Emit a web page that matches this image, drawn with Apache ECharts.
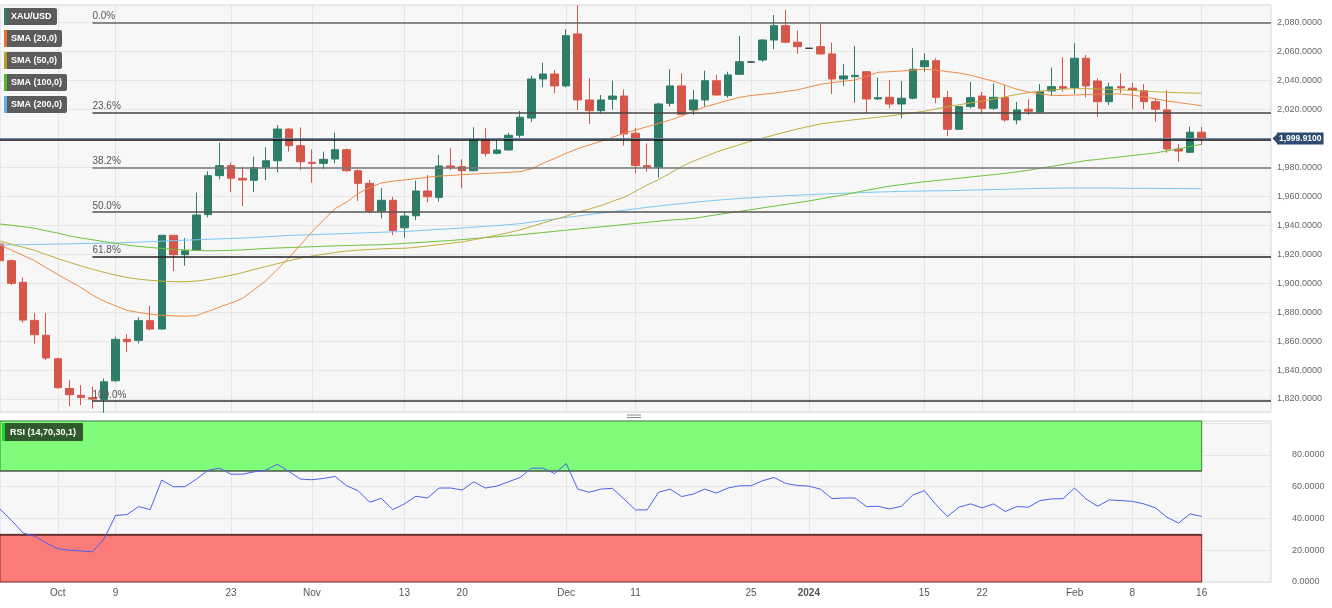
<!DOCTYPE html>
<html>
<head>
<meta charset="utf-8">
<script src="https://cdn.jsdelivr.net/npm/echarts@6/dist/echarts.min.js"></script>
<style>
  html, body { margin: 0; padding: 0; background: #fff; }
  #chart { width: 1332px; height: 608px; }
</style>
</head>
<body>
<div id="chart"></div>
<script>
// weekdays, Sep 25 2023 .. Feb 16 2024, then empty slots on the right
var dates = [
  '2023-09-25','2023-09-26','2023-09-27','2023-09-28','2023-09-29',
  '2023-10-02','2023-10-03','2023-10-04','2023-10-05','2023-10-06','2023-10-09','2023-10-10','2023-10-11','2023-10-12','2023-10-13',
  '2023-10-16','2023-10-17','2023-10-18','2023-10-19','2023-10-20','2023-10-23','2023-10-24','2023-10-25','2023-10-26','2023-10-27',
  '2023-10-30','2023-10-31',
  '2023-11-01','2023-11-02','2023-11-03','2023-11-06','2023-11-07','2023-11-08','2023-11-09','2023-11-10','2023-11-13','2023-11-14',
  '2023-11-15','2023-11-16','2023-11-17','2023-11-20','2023-11-21','2023-11-22','2023-11-23','2023-11-24','2023-11-27','2023-11-28',
  '2023-11-29','2023-11-30',
  '2023-12-01','2023-12-04','2023-12-05','2023-12-06','2023-12-07','2023-12-08','2023-12-11','2023-12-12','2023-12-13','2023-12-14',
  '2023-12-15','2023-12-18','2023-12-19','2023-12-20','2023-12-21','2023-12-22','2023-12-25','2023-12-26','2023-12-27','2023-12-28',
  '2023-12-29',
  '2024-01-01','2024-01-02','2024-01-03','2024-01-04','2024-01-05','2024-01-08','2024-01-09','2024-01-10','2024-01-11','2024-01-12',
  '2024-01-15','2024-01-16','2024-01-17','2024-01-18','2024-01-19','2024-01-22','2024-01-23','2024-01-24','2024-01-25','2024-01-26',
  '2024-01-29','2024-01-30','2024-01-31',
  '2024-02-01','2024-02-02','2024-02-05','2024-02-06','2024-02-07','2024-02-08','2024-02-09','2024-02-12','2024-02-13','2024-02-14',
  '2024-02-15','2024-02-16',
  '2024-02-19','2024-02-20','2024-02-21','2024-02-22','2024-02-23','2024-02-26'
];

var tickIndex = [5, 10, 20, 27, 35, 40, 49, 55, 65, 70, 80, 85, 93, 98, 104];
var tickText  = ['Oct', '9', '23', 'Nov', '13', '20', 'Dec', '11', '25', '2024', '15', '22', 'Feb', '8', '16'];

// [open, close, low, high]
var ohlc = [
  [1927.1,1915.5,1914.0,1928.0],[1915.5,1899.9,1898.7,1916.5],[1900.6,1874.5,1872.7,1903.8],[1874.3,1864.4,1858.2,1879.4],
  [1864.0,1848.3,1846.9,1879.4],[1847.8,1827.8,1827.1,1848.5],[1827.3,1822.9,1815.0,1833.0],[1822.5,1821.1,1815.8,1829.6],
  [1820.8,1819.9,1813.3,1828.5],[1819.7,1831.9,1810.5,1834.2],[1832.6,1861.2,1831.9,1863.0],[1861.2,1859.6,1852.4,1864.8],
  [1860.5,1874.1,1858.4,1876.4],[1874.1,1868.3,1867.4,1884.4],[1868.3,1933.1,1868.0,1933.1],[1933.1,1919.7,1908.4,1933.1],
  [1919.7,1922.4,1912.1,1931.2],[1922.9,1947.1,1922.9,1962.5],[1947.4,1974.3,1945.5,1977.3],[1974.3,1981.2,1971.8,1997.1],
  [1981.2,1972.5,1963.0,1983.3],[1972.5,1971.3,1953.4,1980.5],[1971.1,1979.8,1963.0,1987.4],[1980.1,1984.6,1971.3,1993.9],
  [1984.6,2006.5,1976.6,2009.3],[2006.5,1995.0,1990.9,2007.0],[1995.0,1983.9,1978.2,2007.7],[1983.5,1982.8,1969.4,1992.5],
  [1982.8,1985.6,1978.7,1990.9],[1985.8,1992.2,1982.8,2004.0],[1992.2,1977.7,1977.0,1993.0],[1977.7,1969.0,1956.8,1978.7],
  [1969.0,1949.9,1948.2,1971.3],[1949.9,1957.3,1944.8,1965.6],[1957.3,1936.3,1933.3,1959.7],[1938.3,1946.4,1931.4,1949.4],
  [1946.6,1963.7,1943.6,1970.8],[1963.7,1959.7,1955.9,1974.7],[1959.3,1981.0,1956.3,1988.6],[1981.0,1980.1,1978.2,1993.2],
  [1980.5,1977.7,1965.6,1985.6],[1977.7,1998.9,1977.2,2007.7],[1998.9,1989.7,1987.5,2007.0],[1989.7,1992.0,1989.0,1998.9],
  [1992.0,2002.2,1991.5,2004.0],[2002.2,2014.6,2000.3,2019.0],[2014.1,2041.1,2011.4,2043.4],[2041.1,2044.5,2035.4,2052.4],
  [2044.5,2036.3,2031.2,2047.3],[2036.3,2071.0,2035.4,2075.4],[2072.2,2026.6,2019.7,2092.0],[2026.6,2019.2,2010.0,2041.6],
  [2019.2,2026.6,2017.0,2030.0],[2027.1,2029.3,2020.1,2039.9],[2029.3,2003.1,1995.0,2034.0],[2003.6,1981.2,1975.9,2007.4],
  [1981.2,1980.1,1977.0,1996.6],[1980.1,2023.8,1972.9,2024.7],[2024.3,2036.3,2022.0,2047.8],[2036.3,2016.7,2016.2,2045.0],
  [2019.7,2026.6,2016.2,2033.5],[2026.6,2039.9,2022.0,2046.8],[2039.9,2030.0,2029.6,2043.9],[2029.6,2043.9,2028.2,2046.1],
  [2044.3,2053.0,2043.9,2070.8],[2052.8,2052.8,2052.8,2052.8],[2054.2,2068.0,2053.0,2068.5],[2068.0,2077.9,2061.6,2085.3],
  [2077.9,2066.5,2065.8,2088.8],[2066.5,2063.4,2058.4,2074.5],[2062.3,2062.3,2062.3,2062.3],[2063.4,2058.4,2057.7,2079.6],
  [2058.4,2041.1,2030.7,2066.2],[2041.1,2043.2,2036.3,2051.5],[2042.7,2043.6,2024.7,2063.9],[2046.1,2027.3,2017.4,2046.6],
  [2027.3,2028.2,2026.6,2042.0],[2028.4,2023.8,2020.8,2040.4],[2023.8,2027.8,2013.9,2039.7],[2027.8,2047.8,2027.0,2062.3],
  [2049.6,2053.7,2046.1,2058.9],[2053.7,2028.4,2024.3,2055.4],[2028.2,2006.3,2001.7,2032.8],[2006.3,2022.0,2005.8,2022.4],
  [2022.0,2028.2,2020.8,2039.2],[2029.3,2020.8,2016.9,2032.1],[2020.8,2028.4,2019.7,2038.1],[2028.2,2012.8,2011.6,2036.9],
  [2012.8,2019.7,2009.8,2025.2],[2020.2,2018.8,2016.2,2027.1],[2018.3,2032.3,2018.0,2037.6],[2032.8,2035.8,2029.3,2048.9],
  [2035.8,2034.7,2032.3,2056.1],[2035.1,2055.4,2030.7,2065.8],[2055.4,2036.3,2028.4,2057.7],[2039.7,2025.4,2015.0,2041.6],
  [2025.4,2035.6,2023.1,2038.5],[2035.8,2034.9,2031.2,2045.0],[2034.7,2033.5,2020.2,2038.5],[2033.0,2025.4,2020.2,2037.6],
  [2025.4,2020.2,2011.6,2027.8],[2019.7,1992.7,1990.2,2033.5],[1992.7,1991.3,1983.9,1996.2],[1990.4,2004.3,1990.2,2008.1],
  [2004.3,1999.91,1995.5,2008.1]
];

var sma20 = [
  1926.4,1922.8,1919.2,1915.5,1910.7,1906.0,1901.5,1897.0,1891.8,1887.6,1884.3,1881.2,1879.8,1878.6,1877.8,1877.4,1877.2,1877.6,1880.5,1883.5,
  1886.3,1889.5,1895.5,1901.6,1909.5,1917.5,1926.4,1935.5,1943.7,1951.5,1956.0,1962.0,1966.0,1969.3,1970.5,1971.3,1972.2,1973.2,1974.0,1974.4,
  1975.0,1975.4,1975.8,1976.2,1976.6,1977.0,1979.0,1982.8,1986.2,1989.7,1993.0,1995.5,1998.0,2000.8,2003.6,2005.8,2008.1,2010.4,2012.7,2015.5,
  2018.7,2021.8,2024.0,2026.3,2028.4,2029.7,2030.5,2031.3,2032.5,2033.5,2035.5,2037.4,2038.6,2039.5,2040.4,2043.0,2045.7,2046.1,2046.6,2047.2,
  2047.8,2047.2,2046.2,2045.2,2043.6,2041.6,2039.5,2036.7,2034.0,2032.1,2030.8,2029.8,2029.7,2030.0,2030.4,2030.6,2030.7,2030.7,2029.9,2028.8,
  2027.3,2025.9,2024.8,2023.7,2022.6
];
var sma50 = [
  1929.1,1926.9,1924.8,1922.7,1919.8,1917.0,1914.4,1912.0,1909.6,1907.5,1905.6,1903.9,1902.8,1902.0,1901.4,1901.0,1901.0,1901.5,1902.5,1904.0,
  1905.5,1907.3,1909.5,1911.5,1913.5,1915.5,1917.3,1918.8,1920.0,1921.2,1922.2,1922.8,1923.3,1923.7,1924.0,1924.1,1924.8,1925.7,1926.6,1927.6,
  1928.5,1930.0,1931.6,1933.2,1934.9,1936.8,1939.2,1941.6,1944.0,1946.3,1949.0,1951.2,1953.6,1956.6,1959.3,1963.5,1967.8,1971.6,1976.0,1980.6,
  1984.3,1987.4,1990.6,1993.2,1995.6,1998.2,2000.2,2002.4,2004.5,2006.5,2008.3,2010.0,2011.1,2012.0,2013.0,2013.8,2014.7,2015.5,2016.6,2017.7,
  2018.8,2020.4,2022.0,2023.3,2024.6,2025.8,2027.2,2028.8,2030.4,2031.6,2032.6,2033.5,2034.1,2034.4,2034.4,2034.2,2033.9,2033.6,2033.2,2032.8,
  2032.2,2031.9,2031.6,2031.4,2031.2
];
var sma100 = [
  1940.9,1940.0,1939.0,1937.9,1936.2,1934.6,1932.6,1931.2,1930.0,1928.7,1927.5,1926.3,1925.4,1924.7,1924.0,1923.4,1923.0,1922.6,1922.4,1922.5,
  1922.7,1923.0,1923.5,1924.0,1924.3,1924.6,1924.9,1925.2,1925.5,1925.8,1926.0,1926.2,1926.4,1926.6,1927.0,1927.5,1928.0,1928.5,1929.0,1929.5,
  1930.1,1930.8,1931.5,1932.1,1932.8,1933.4,1934.2,1935.0,1935.8,1936.6,1937.4,1938.2,1938.9,1939.7,1940.5,1941.3,1942.0,1942.8,1943.6,1944.1,
  1944.8,1946.0,1947.3,1948.4,1949.6,1950.8,1952.0,1953.2,1954.4,1955.6,1956.8,1958.2,1959.6,1961.0,1962.6,1964.2,1965.6,1967.1,1968.1,1969.1,
  1970.1,1970.9,1971.7,1972.5,1973.4,1974.2,1975.0,1975.9,1976.9,1978.0,1979.4,1980.7,1982.0,1983.4,1984.7,1985.5,1986.4,1987.3,1988.2,1989.1,
  1990.0,1991.4,1992.8,1994.4,1996.0
];
var sma200 = [
  1926.4,1926.5,1926.6,1926.7,1926.9,1927.0,1927.2,1927.4,1927.5,1927.6,1927.8,1928.1,1928.4,1928.7,1929.0,1929.4,1929.7,1930.0,1930.3,1930.6,
  1930.9,1931.2,1931.6,1932.0,1932.5,1933.0,1933.3,1933.5,1933.8,1934.0,1934.3,1934.6,1934.9,1935.2,1935.5,1935.7,1936.2,1936.7,1937.2,1937.6,
  1938.1,1938.7,1939.3,1939.8,1940.4,1941.1,1942.2,1943.3,1944.4,1945.4,1946.4,1947.4,1948.4,1949.4,1950.4,1951.4,1952.4,1953.3,1954.2,1955.0,
  1955.8,1956.6,1957.3,1957.9,1958.5,1959.0,1959.5,1960.0,1960.4,1960.8,1961.2,1961.5,1961.8,1962.1,1962.4,1962.7,1963.0,1963.2,1963.4,1963.6,
  1963.7,1963.8,1963.9,1964.1,1964.3,1964.5,1964.7,1964.9,1965.1,1965.3,1965.5,1965.6,1965.7,1965.8,1965.8,1965.8,1965.7,1965.6,1965.6,1965.5,
  1965.5,1965.4,1965.4,1965.3,1965.3
];
var rsi = [
  46.0,38.8,30.8,28.8,24.6,21.0,20.0,19.6,19.0,27.0,41.9,42.5,47.5,45.6,64.2,60.0,60.0,64.8,70.4,71.7,
  67.9,67.9,69.4,70.4,74.2,69.6,64.8,64.4,65.2,66.5,60.6,57.5,50.2,52.7,45.6,49.2,54.0,52.9,59.2,59.2,
  57.9,63.1,59.2,60.4,63.1,65.8,71.7,71.7,68.3,74.6,58.5,56.5,58.5,59.0,52.3,45.4,45.4,56.5,58.5,53.8,
  55.4,58.5,56.0,59.2,60.6,60.6,63.8,65.8,62.1,60.8,60.4,58.5,52.5,52.9,52.9,47.5,47.7,46.0,47.7,54.8,
  57.5,48.8,41.3,47.1,49.2,46.7,49.2,44.4,47.5,47.1,51.3,52.3,52.5,59.2,52.3,47.7,51.7,51.3,50.8,49.2,
  46.7,40.8,37.1,42.9,41.3
];

// fibonacci retracement levels and the two horizontal lines
var fibLevels = [2080.0, 2018.0, 1980.0, 1949.3, 1918.5, 1818.6];
var fibNames  = ['0.0%', '23.6%', '38.2%', '50.0%', '61.8%', '100.0%'];
var fibColors = ['#666', '#444', '#777', '#555', '#222', '#333'];
var fibStart = 8;
var hLine = 1998.9;
var lastPrice = 1999.91;
var lastIdx = ohlc.length - 1;
var endIdx = dates.length - 1;

var legendItems = [
  ['XAU/USD', '#2e7d69', 53], ['SMA (20,0)', '#e8702a', 58], ['SMA (50,0)', '#b3a128', 58],
  ['SMA (100,0)', '#56b82c', 63], ['SMA (200,0)', '#5fb4f0', 63]
];

var font = "'Liberation Sans', Arial, sans-serif";

function fmtPrice(v) {
  return v.toLocaleString('en-US', {minimumFractionDigits: 4, maximumFractionDigits: 4});
}
function isTick(i) { return tickIndex.indexOf(i) >= 0; }

var markData = [];
for (var i = 0; i < fibLevels.length; i++) {
  markData.push([
    {coord: [dates[fibStart], fibLevels[i]], lineStyle: {color: fibColors[i], width: 1.5, type: 'solid'},
     label: {show: true, formatter: fibNames[i], position: 'insideStartTop', distance: [0, 1],
             color: '#555', fontSize: 10, fontFamily: font}},
    {coord: [dates[endIdx], fibLevels[i]]}
  ]);
}
markData.push([
  {coord: [dates[0], hLine], lineStyle: {color: '#111', width: 1.5, type: 'solid'}, label: {show: false}},
  {coord: [dates[endIdx], hLine]}
]);
markData.push([
  {coord: [dates[0], lastPrice], lineStyle: {color: '#6b88b0', width: 1, type: 'solid'},
   label: {show: true, position: 'end', formatter: fmtPrice(lastPrice), color: '#fff',
           backgroundColor: '#2d4b6e', padding: [2, 2, 1, 2], fontSize: 8.5, fontWeight: 'bold',
           fontFamily: font, distance: 6}},
  {coord: [dates[endIdx], lastPrice]}
]);

var graphics = [];
legendItems.forEach(function (it, k) {
  graphics.push({
    type: 'group', left: 4, top: 8 + k * 22, z: 100,
    children: [
      {type: 'rect', z: 100, shape: {x: 0, y: 0, width: it[2], height: 17, r: 2}, style: {fill: '#5c5c5c'}},
      {type: 'rect', z: 101, shape: {x: 0, y: 0, width: 3, height: 17}, style: {fill: it[1]}},
      {type: 'text', z: 102, x: 7, y: 9, style: {text: it[0], fill: '#fff', font: 'bold 9px ' + font, verticalAlign: 'middle'}}
    ]
  });
});
graphics.push({
  type: 'group', left: 2, top: 423, z: 100,
  children: [
    {type: 'rect', z: 100, shape: {x: 0, y: 0, width: 81, height: 18, r: 1}, style: {fill: '#2f5a2c'}},
    {type: 'rect', z: 101, shape: {x: 0, y: 0, width: 3, height: 18}, style: {fill: '#22d81e'}},
    {type: 'text', z: 102, x: 8, y: 9.5, style: {text: 'RSI (14,70,30,1)', fill: '#fff', font: 'bold 9px ' + font, verticalAlign: 'middle'}}
  ]
});
graphics.push({type: 'line', z: 100, shape: {x1: 627, y1: 415, x2: 641, y2: 415}, style: {stroke: '#888', lineWidth: 1}});
graphics.push({type: 'line', z: 100, shape: {x1: 627, y1: 417.5, x2: 641, y2: 417.5}, style: {stroke: '#888', lineWidth: 1}});

function smaSeries(name, data, color) {
  return {
    name: name, type: 'line', xAxisIndex: 0, yAxisIndex: 0, data: data,
    showSymbol: false, symbol: 'none', smooth: false, z: 4,
    lineStyle: {color: color, width: 1}, silent: true
  };
}

var option = {
  animation: false,
  backgroundColor: '#ffffff',
  textStyle: {fontFamily: font},
  grid: [
    {left: 0, right: 61, top: 5, bottom: 196, show: true, backgroundColor: '#f7f7f7', borderColor: '#d3dae6', borderWidth: 1},
    {left: 0, right: 61, top: 421, bottom: 26, show: true, backgroundColor: '#f7f7f7', borderColor: '#d3dae6', borderWidth: 1}
  ],
  xAxis: [
    {type: 'category', gridIndex: 0, data: dates, boundaryGap: false,
     axisLine: {show: false}, axisTick: {show: false}, axisLabel: {show: false},
     splitLine: {show: true, interval: function (i) { return isTick(i); }, lineStyle: {color: '#e4e4e4'}}},
    {type: 'category', gridIndex: 1, data: dates, boundaryGap: false,
     axisLine: {show: false}, axisTick: {show: false},
     axisLabel: {interval: function (i) { return isTick(i); }, color: '#555', fontSize: 10, margin: 6,
       formatter: function (v, i) {
         var t = tickText[tickIndex.indexOf(i)] || '';
         return t === '2024' ? '{b|2024}' : t;
       },
       rich: {b: {fontWeight: 'bold', fontSize: 10, color: '#555'}}},
     splitLine: {show: true, interval: function (i) { return isTick(i); }, lineStyle: {color: '#e4e4e4'}}}
  ],
  yAxis: [
    {type: 'value', gridIndex: 0, position: 'right', min: 1811, max: 2092.2, splitNumber: 14, scale: true,
     axisLine: {show: false}, axisTick: {show: false},
     axisLabel: {color: '#666', fontSize: 9, margin: 6, showMinLabel: false, showMaxLabel: false, formatter: fmtPrice},
     splitLine: {lineStyle: {color: '#e6e6e6'}}},
    {type: 'value', gridIndex: 1, position: 'right', min: 0, max: 101.4, interval: 20,
     axisLine: {show: false}, axisTick: {show: false},
     axisLabel: {color: '#666', fontSize: 9, margin: 21, showMaxLabel: false,
       formatter: function (v) { return v > 90 ? '' : v.toFixed(4); }},
     splitLine: {lineStyle: {color: '#e6e6e6'}}}
  ],
  graphic: graphics,
  series: [
    {
      name: 'XAU/USD', type: 'candlestick', xAxisIndex: 0, yAxisIndex: 0, data: ohlc,
      barWidth: 8, clip: true, z: 3,
      itemStyle: {color: '#2e7d69', color0: '#d6574a', borderColor: '#2e7d69', borderColor0: '#d6574a',
                  borderColorDoji: '#333', borderWidth: 1},
      markLine: {symbol: ['none', 'none'], silent: true, animation: false,
                 lineStyle: {type: 'solid'}, data: markData},
      markPoint: {silent: true, animation: false, label: {show: false}, data: [
        {coord: [dates[endIdx], lastPrice], symbol: 'triangle', symbolRotate: 90, symbolSize: [10, 5],
         symbolOffset: [4, 0], itemStyle: {color: '#2d4b6e'}}
      ]}
    },
    smaSeries('SMA (200,0)', sma200, '#7cc6f7'),
    smaSeries('SMA (100,0)', sma100, '#6cc23a'),
    smaSeries('SMA (50,0)', sma50, '#bfae3c'),
    smaSeries('SMA (20,0)', sma20, '#f08a45'),
    {
      name: 'RSI', type: 'line', xAxisIndex: 1, yAxisIndex: 1, data: rsi,
      showSymbol: false, symbol: 'none', z: 5,
      lineStyle: {color: '#4a62ea', width: 1},
      markArea: {silent: true, data: [
        [{xAxis: dates[0], yAxis: 70, itemStyle: {color: '#7efc7a', borderColor: '#3f7f3f', borderWidth: 1}},
         {xAxis: dates[lastIdx], yAxis: 101.4}],
        [{xAxis: dates[0], yAxis: 0, itemStyle: {color: '#fa7b78', borderColor: '#7a3030', borderWidth: 1}},
         {xAxis: dates[lastIdx], yAxis: 30}]
      ]},
      markLine: {symbol: ['none', 'none'], silent: true, label: {show: false}, lineStyle: {type: 'solid'}, data: [
        [{coord: [dates[0], 70], lineStyle: {color: '#5b6b5b', width: 1.5, type: 'solid'}}, {coord: [dates[lastIdx], 70]}],
        [{coord: [dates[0], 30], lineStyle: {color: '#5a2a2a', width: 1.5, type: 'solid'}}, {coord: [dates[lastIdx], 30]}]
      ]}
    }
  ]
};

var chart = echarts.init(document.getElementById('chart'));
chart.setOption(option);
</script>
</body>
</html>
